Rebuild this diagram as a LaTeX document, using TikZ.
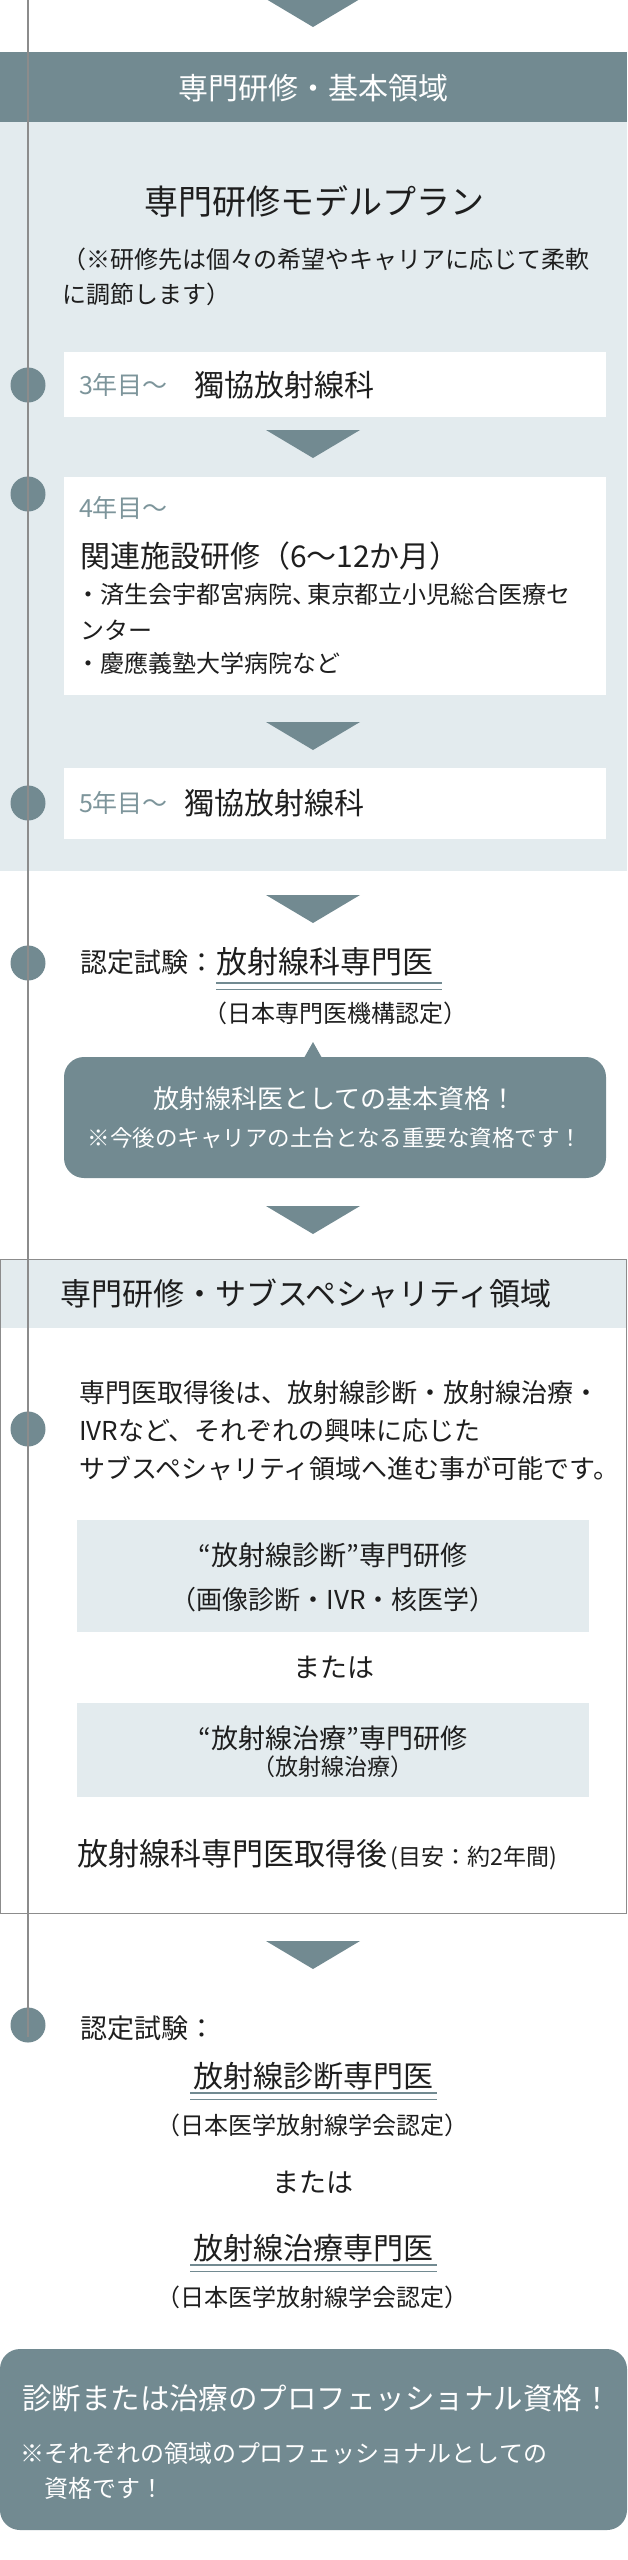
\documentclass[tikz,border=0pt]{standalone}
\usepackage{fontspec}
\setmainfont{Noto Sans CJK JP}
\definecolor{dark}{HTML}{728A91}
\definecolor{light}{HTML}{E3EBEE}
\definecolor{ink}{HTML}{1E1E1E}
\definecolor{lab}{HTML}{7D959B}
\definecolor{rulegray}{HTML}{8C8C8C}
\newcommand{\fsz}[1]{\fontsize{#1}{#1}\selectfont}
\newcommand{\arrowdown}[1]{\fill[dark] (#1) -- ++(-47,-28) -- ++(94,0) -- cycle;}
\begin{document}
\begin{tikzpicture}[x=1pt,y=-1pt,
  txt/.style={inner sep=0pt, outer sep=0pt, text=ink},
  wtxt/.style={inner sep=0pt, outer sep=0pt, text=white},
  labtxt/.style={inner sep=0pt, outer sep=0pt, text=lab, font=\fsz{25}},
  dot/.style={circle, fill=dark, minimum size=35pt, inner sep=0pt},
  card/.style={fill=white, inner sep=0pt, anchor=north west},
  subcard/.style={fill=light, inner sep=0pt, anchor=north west},
  dbl/.style={draw=dark, line width=1.5pt}]
\useasboundingbox (0,0) rectangle (627,2560);
% backgrounds
\fill[dark] (0,52) rectangle (627,122);
\fill[light] (0,122) rectangle (627,871);
\fill[light] (0,1259) rectangle (627,1328);
\draw[rulegray, line width=1pt] (0.5,1259) rectangle (626.5,1913);
% arrows
\coordinate (a1) at (313,27);
\coordinate (a2) at (313,458);
\coordinate (a3) at (313,750);
\coordinate (a4) at (313,923);
\coordinate (a5) at (313,1234);
\coordinate (a6) at (313,1969);
\arrowdown{a1}
\arrowdown{a2}
\arrowdown{a3}
\arrowdown{a4}
\arrowdown{a5}
\arrowdown{a6}
% cards
\node[card, minimum width=542pt, minimum height=65pt] (box1) at (64,352) {};
\node[card, minimum width=542pt, minimum height=218pt] (box2) at (64,477) {};
\node[card, minimum width=542pt, minimum height=71pt] (box3) at (64,768) {};
\node[subcard, minimum width=512pt, minimum height=112pt] (subA) at (77,1520) {};
\node[subcard, minimum width=512pt, minimum height=94pt] (subB) at (77,1703) {};
% callout
\fill[dark, rounded corners=20pt] (64,1057) rectangle (606,1178);
\coordinate (ptip) at (313,1042);
\fill[dark] (ptip) -- ++(-9,16) -- ++(18,0) -- cycle;
% final box
\fill[dark, rounded corners=20pt] (0,2349) rectangle (627,2530);
% dots
\node[dot] (d1) at (28,385) {};
\node[dot] (d2) at (28,494) {};
\node[dot] (d3) at (28,803) {};
\node[dot] (d4) at (28,963) {};
\node[dot] (d5) at (28,1429) {};
\node[dot] (d6) at (28,2025) {};
% timeline
\coordinate (ltop) at (28,0);
\coordinate (lbot) at (28,2037);
\draw[rulegray, line width=1.2pt] (ltop) -- (lbot);
% texts
\node[wtxt, font=\fsz{30}] (h1) at (313,88) {専門研修・基本領域};
\node[txt, font=\fsz{34}] (title) at (314,201) {専門研修モデルプラン};
\node[txt, font=\fsz{24}, anchor=west] (n1) at (62,259) {（※研修先は個々の希望やキャリアに応じて柔軟};
\node[txt, font=\fsz{24}, anchor=west] (n2) at (62,294) {に調節します）};
\node[labtxt, anchor=west] (y3) at (79,385) {3年目～};
\node[txt, font=\fsz{30}, anchor=west] (k1) at (194,385) {獨協放射線科};
\node[labtxt, anchor=west] (y4) at (79,508) {4年目～};
\node[txt, font=\fsz{30}, anchor=west] (k2) at (80,556) {関連施設研修（6～12か月）};
\node[txt, font=\fsz{24}, anchor=west] (b1) at (76,594) {・済生会宇都宮病院、\kern-9pt 東京都立小児総合医療セ};
\node[txt, font=\fsz{24}, anchor=west] (b2) at (80,630) {ンター};
\node[txt, font=\fsz{24}, anchor=west] (b3) at (76,663) {・慶應義塾大学病院など};
\node[labtxt, anchor=west] (y5) at (79,803) {5年目～};
\node[txt, font=\fsz{30}, anchor=west] (k3) at (184,803) {獨協放射線科};
\node[txt, font=\fsz{27}, anchor=west] (e1) at (80,962) {認定試験：};
\node[txt, font=\fsz{31}, anchor=west] (q1) at (216,962) {放射線科専門医};
\draw[dbl] (216,983) -- (442,983);
\draw[dbl] (216,989.5) -- (442,989.5);
\node[txt, font=\fsz{24}] (o1) at (335,1013) {（日本専門医機構認定）};
\node[wtxt, font=\fsz{26}] (c1) at (335,1099) {放射線科医としての基本資格！};
\node[wtxt, font=\fsz{22.5}] (c2) at (335,1138) {※今後のキャリアの土台となる重要な資格です！};
\node[txt, font=\fsz{31}, anchor=west] (h2) at (60,1294) {専門研修・サブスペシャリティ領域};
\node[txt, font=\fsz{26}, anchor=west] (p1) at (79,1393) {専門医取得後は、放射線診断・放射線治療・};
\node[txt, font=\fsz{26}, anchor=west] (p2) at (79,1431) {IVRなど、それぞれの興味に応じた};
\node[txt, font=\fsz{26}, anchor=west] (p3) at (79,1469) {サブスペシャリティ領域へ進む事が可能です。};
\node[txt, font=\fsz{27}] (sa1) at (333,1555) {“放射線診断”専門研修};
\node[txt, font=\fsz{26}] (sa2) at (333,1600) {（画像診断・IVR・核医学）};
\node[txt, font=\fsz{27}] (or1) at (334,1667) {または};
\node[txt, font=\fsz{27}] (sb1) at (333,1738) {“放射線治療”専門研修};
\node[txt, font=\fsz{23}] (sb2) at (333,1767) {（放射線治療）};
\node[txt, anchor=west] (af) at (77,1855) {{\fsz{31}放射線科専門医取得後}{\fsz{23}\,(目安：約2年間)}};
\node[txt, font=\fsz{27}, anchor=west] (e2) at (80,2028) {認定試験：};
\node[txt, font=\fsz{30}] (q2) at (313,2076) {放射線診断専門医};
\draw[dbl] (190,2093) -- (437,2093);
\draw[dbl] (190,2099.5) -- (437,2099.5);
\node[txt, font=\fsz{24}] (o2) at (312,2125) {（日本医学放射線学会認定）};
\node[txt, font=\fsz{27}] (or2) at (313,2182) {または};
\node[txt, font=\fsz{30}] (q3) at (313,2248) {放射線治療専門医};
\draw[dbl] (190,2265) -- (437,2265);
\draw[dbl] (190,2271.5) -- (437,2271.5);
\node[txt, font=\fsz{24}] (o3) at (312,2297) {（日本医学放射線学会認定）};
\node[wtxt, font=\fsz{29.5}, anchor=west] (f1) at (22,2398) {診断または治療のプロフェッショナル資格！};
\node[wtxt, font=\fsz{24}, anchor=west] (f2) at (20,2453) {※それぞれの領域のプロフェッショナルとしての};
\node[wtxt, font=\fsz{24}, anchor=west] (f3) at (44,2488) {資格です！};
\end{tikzpicture}
\end{document}
